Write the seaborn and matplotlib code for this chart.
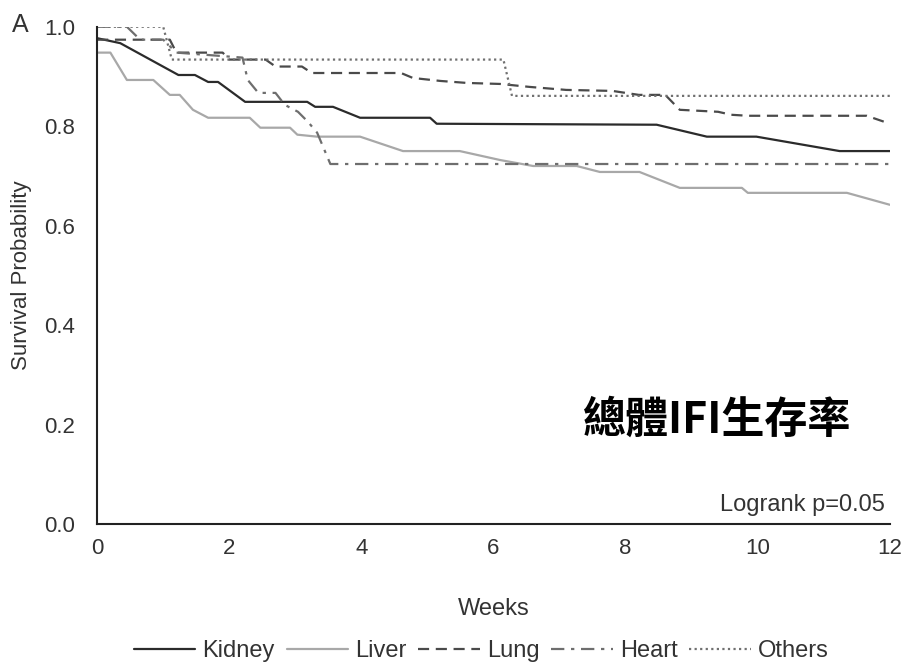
import matplotlib
matplotlib.use("Agg")
import matplotlib.pyplot as plt
import pandas as pd
import seaborn as sns

# survival curves (weeks, survival probability)
kidney_weeks = [0, 0.35, 1.23, 1.48, 1.68, 1.83, 2.24, 3.18, 3.30, 3.57, 3.98, 5.04, 5.14, 8.47, 9.23, 9.98, 11.24, 12.0]
kidney_surv = [0.977, 0.967, 0.903, 0.903, 0.889, 0.889, 0.849, 0.849, 0.839, 0.839, 0.817, 0.817, 0.805, 0.803, 0.779, 0.779, 0.750, 0.750]

liver_weeks = [0, 0.2, 0.45, 0.85, 1.1, 1.25, 1.45, 1.68, 2.31, 2.47, 2.92, 3.03, 3.33, 3.98, 4.63, 5.49, 6.1, 6.6, 7.26, 7.61, 8.21, 8.82, 9.76, 9.85, 11.35, 12.0]
liver_surv = [0.948, 0.948, 0.893, 0.893, 0.863, 0.863, 0.833, 0.817, 0.817, 0.797, 0.797, 0.783, 0.779, 0.779, 0.750, 0.750, 0.732, 0.720, 0.720, 0.708, 0.708, 0.676, 0.676, 0.666, 0.666, 0.642]

lung_weeks = [0, 1.1, 1.2, 1.9, 2.0, 2.55, 2.7, 3.1, 3.25, 4.6, 4.78, 5.2, 5.6, 6.1, 6.55, 7.1, 7.8, 8.2, 8.6, 8.82, 9.4, 9.6, 9.85, 11.65, 12.0]
lung_surv = [0.974, 0.974, 0.948, 0.948, 0.934, 0.934, 0.920, 0.920, 0.907, 0.907, 0.897, 0.891, 0.887, 0.885, 0.879, 0.873, 0.871, 0.863, 0.863, 0.833, 0.829, 0.823, 0.821, 0.821, 0.805]

heart_weeks = [0, 0.45, 0.65, 1.0, 1.2, 2.2, 2.28, 2.44, 2.7, 2.84, 3.04, 3.19, 3.33, 3.53, 12.0]
heart_surv = [1.0, 1.0, 0.974, 0.974, 0.948, 0.938, 0.893, 0.867, 0.867, 0.843, 0.829, 0.809, 0.787, 0.724, 0.724]

others_weeks = [0, 1.0, 1.13, 6.15, 6.28, 12.0]
others_surv = [1.0, 1.0, 0.934, 0.934, 0.861, 0.861]

organs = ["Kidney", "Liver", "Lung", "Heart", "Others"]
series = {
    "Kidney": (kidney_weeks, kidney_surv),
    "Liver": (liver_weeks, liver_surv),
    "Lung": (lung_weeks, lung_surv),
    "Heart": (heart_weeks, heart_surv),
    "Others": (others_weeks, others_surv),
}
colors = {"Kidney": "#2b2b2b", "Liver": "#a8a8a8", "Lung": "#4a4a4a", "Heart": "#6e6e6e", "Others": "#707070"}
styles = {"Kidney": "-", "Liver": "-", "Lung": (0, (5, 3)), "Heart": (0, (6, 3, 1.5, 3)), "Others": (0, (1, 1.5))}

sns.set_style("white")
plt.rcParams["font.family"] = ["Liberation Sans", "DejaVu Sans"]

fig = plt.figure(figsize=(9.08, 6.69), dpi=100)
ax = fig.add_axes([0.107, 0.2167, 0.873, 0.7433])

for organ in organs:
    w, s = series[organ]
    df = pd.DataFrame({"Weeks": w, "Survival": s})
    sns.lineplot(data=df, x="Weeks", y="Survival", ax=ax, estimator=None, sort=False,
                 color=colors[organ], linestyle=styles[organ], linewidth=1.6, label=organ)

ax.set_xlim(0, 12)
ax.set_ylim(0, 1.0)
ax.set_xticks(range(0, 13, 2))
ax.set_yticks([0.0, 0.2, 0.4, 0.6, 0.8, 1.0])
ax.set_yticklabels(["0.0", "0.2", "0.4", "0.6", "0.8", "1.0"])
ax.tick_params(axis="both", labelsize=16, length=0, colors="#333333")
ax.tick_params(axis="y", pad=16)
ax.tick_params(axis="x", pad=10)
ax.set_xlabel("Weeks", fontsize=17, color="#333333", labelpad=28)
ax.set_ylabel("Survival Probability", fontsize=16, color="#333333")
ax.yaxis.set_label_coords(-0.082, 0.5)
for side in ["top", "right"]:
    ax.spines[side].set_visible(False)
for side in ["left", "bottom"]:
    ax.spines[side].set_color("#222222")
    ax.spines[side].set_linewidth(1.5)

fig.text(0.013, 0.962, "A", fontsize=18, color="#333333", ha="left", va="center")
ax.text(0.994, 0.038, "Logrank p=0.05", transform=ax.transAxes, fontsize=17,
        color="#333333", ha="right", va="center")
ax.text(0.782, 0.21, "總體IFI生存率", transform=ax.transAxes, fontsize=31, fontweight="bold",
        family=["Noto Sans CJK TC", "DejaVu Sans"], color="black", ha="center", va="center")

handles, labels = ax.get_legend_handles_labels()
ax.get_legend().remove()
fig.legend(handles, labels, loc="center", bbox_to_anchor=(0.53, 0.027), ncol=5, frameon=False,
           fontsize=17, handlelength=2.6, handletextpad=0.3, columnspacing=0.5,
           labelcolor="#333333")

plt.savefig("out.png", dpi=100)
